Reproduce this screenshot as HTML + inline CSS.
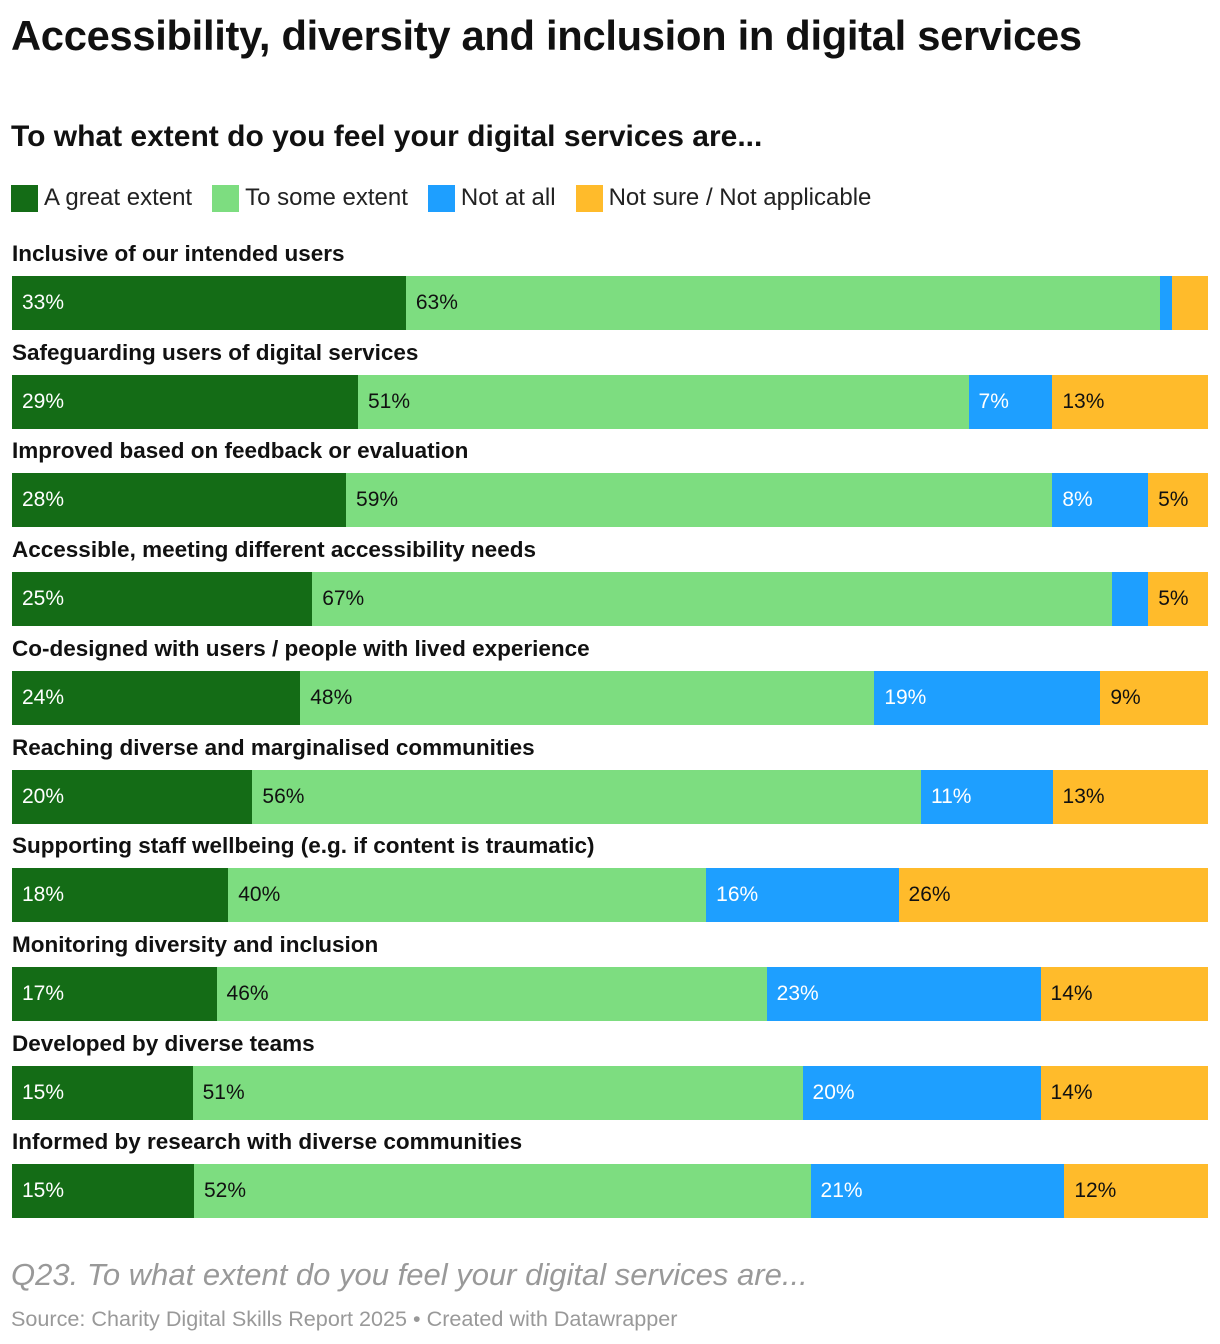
<!DOCTYPE html>
<html><head><meta charset="utf-8">
<style>
body{margin:0;background:#fff;font-family:"Liberation Sans",sans-serif;}
#wrap{position:relative;width:1220px;height:1344px;overflow:hidden;}
.t{position:absolute;white-space:nowrap;}
</style></head>
<body><div id="wrap">
<div class="t" style="left:11px;top:12px;font-size:41.7px;font-weight:bold;color:#111;letter-spacing:-0.3px">Accessibility, diversity and inclusion in digital services</div>
<div class="t" style="left:11px;top:120px;font-size:30px;font-weight:bold;color:#111">To what extent do you feel your digital services are...</div>
<div class="t" style="left:11px;top:184px;font-size:24px;color:#222;display:flex;align-items:center">
<span style="display:flex;align-items:center;margin-right:20px"><i style="display:inline-block;width:27px;height:27px;background:#146c16;margin-right:6px"></i>A great extent</span>
<span style="display:flex;align-items:center;margin-right:20px"><i style="display:inline-block;width:27px;height:27px;background:#7ddd80;margin-right:6px"></i>To some extent</span>
<span style="display:flex;align-items:center;margin-right:20px"><i style="display:inline-block;width:27px;height:27px;background:#1e9fff;margin-right:6px"></i>Not at all</span>
<span style="display:flex;align-items:center"><i style="display:inline-block;width:27px;height:27px;background:#ffbb2b;margin-right:6px"></i>Not sure / Not applicable</span>
</div>
<div id="rows"></div>
<div class="t" style="left:11px;top:1257px;font-size:31px;font-style:italic;color:#999">Q23. To what extent do you feel your digital services are...</div>
<div class="t" style="left:11px;top:1306px;font-size:21.6px;color:#999">Source: Charity Digital Skills Report 2025 • Created with Datawrapper</div>
</div>
<script>
const categories=["Inclusive of our intended users","Safeguarding users of digital services","Improved based on feedback or evaluation","Accessible, meeting different accessibility needs","Co-designed with users / people with lived experience","Reaching diverse and marginalised communities","Supporting staff wellbeing (e.g. if content is traumatic)","Monitoring diversity and inclusion","Developed by diverse teams","Informed by research with diverse communities"];
const greatExtent=[32.9,28.9,27.9,25.1,24.1,20.1,18.1,17.1,15.1,15.2];
const someExtent=[63.0,51.0,59.0,66.9,48.0,55.9,40.0,46.0,51.0,51.5];
const notAtAll=[1.0,7.0,8.0,3.0,18.9,11.0,16.1,22.9,19.9,21.2];
const notSure=[3.0,13.0,5.0,5.0,9.0,13.0,25.9,14.0,14.0,12.0];
const series=[greatExtent,someExtent,notAtAll,notSure];
const seriesNames=["great-extent","some-extent","not-at-all","not-sure"];
const colors=["#146c16","#7ddd80","#1e9fff","#ffbb2b"];
const textColors=["#fff","#111","#fff","#111"];
const X0=12,W=1196,TOP=276,STEP=98.7,BH=54;
function xs(v){return v/100*W;}
const root=document.getElementById('wrap');
categories.forEach((c,i)=>{
  const y=Math.round(TOP+i*STEP);
  const lab=document.createElement('div');
  lab.className='t';
  
  
  lab.style.cssText=`left:12px;top:${y-35}px;font-size:22.5px;font-weight:bold;color:#111`;
  lab.textContent=c;root.appendChild(lab);
  let total=series.reduce((s,a)=>s+a[i],0);
  let acc=0;
  series.forEach((s,k)=>{
    const v=s[i]/total*100;
    const b=document.createElement('div');
    b.className='t';
    
    
    b.style.cssText=`left:${X0+xs(acc)}px;top:${y}px;width:${xs(v)}px;height:${BH}px;background:${colors[k]};color:${textColors[k]};font-size:21px;line-height:${BH}px;text-indent:10px;overflow:hidden`;
    if(s[i]>=4)b.textContent=Math.round(s[i])+'%';
    root.appendChild(b);
    acc+=v;
  });
});
</script>
</body></html>
